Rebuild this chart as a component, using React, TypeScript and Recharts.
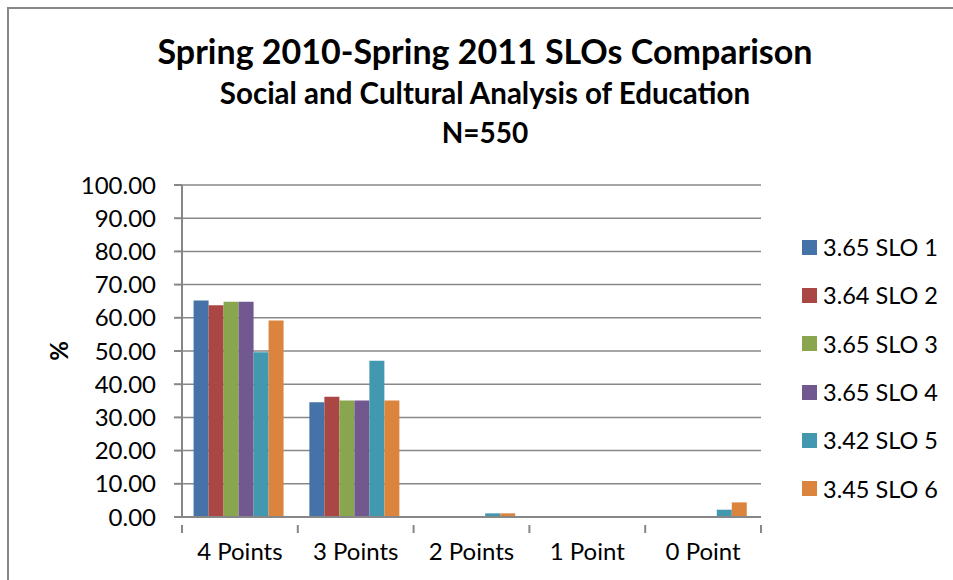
import React from 'react';
import { BarChart, Bar, XAxis, YAxis, CartesianGrid, Label } from 'recharts';

const categories = ['4 Points', '3 Points', '2 Points', '1 Point', '0 Point'];
const seriesNames = ['3.65 SLO 1', '3.64 SLO 2', '3.65 SLO 3', '3.65 SLO 4', '3.42 SLO 5', '3.45 SLO 6'];
const slo1 = [65.2, 34.6, 0, 0, 0];
const slo2 = [63.8, 36.2, 0, 0, 0];
const slo3 = [64.8, 35.1, 0, 0, 0];
const slo4 = [64.8, 35.1, 0, 0, 0];
const slo5 = [49.6, 47.1, 1.1, 0, 2.2];
const slo6 = [59.2, 35.1, 1.1, 0, 4.4];
const yTicks = [0, 10, 20, 30, 40, 50, 60, 70, 80, 90, 100];
const colors = ['#4572A7', '#AA4643', '#89A54E', '#71588F', '#4198AF', '#DB843D'];

const seriesValues = [slo1, slo2, slo3, slo4, slo5, slo6];
const keys = seriesNames.map((_, i) => 's' + i);
const data = categories.map((c, ci) => {
  const row: any = { name: c };
  seriesValues.forEach((vals, si) => {
    row[keys[si]] = vals[ci];
  });
  return row;
});

const FONT = 'Lato, sans-serif';
const GRID = '#878787';
const CHART_W = 953;
const CHART_H = 580;
const MARGIN = { top: 185, right: 192, bottom: 23, left: 42 };
const Y_W = 140;
const PLOT_W = CHART_W - MARGIN.left - Y_W - MARGIN.right;
const BAND = PLOT_W / categories.length;

const XTick = (props: any) => {
  const { x, y, payload, index } = props;
  const isLast = index === categories.length - 1;
  return (
    <g>
      <line x1={x - BAND / 2} x2={x - BAND / 2} y1={y} y2={y + 8} stroke={GRID} strokeWidth={2} />
      {isLast && <line x1={x + BAND / 2} x2={x + BAND / 2} y1={y} y2={y + 8} stroke={GRID} strokeWidth={2} />}
      <text x={x} y={y + 35} textAnchor="middle" fontFamily={FONT} fontSize={24} fill="#000">
        {payload.value}
      </text>
    </g>
  );
};

export default function App() {
  return (
    <div style={{ position: 'fixed', left: 0, top: 0, width: CHART_W, height: CHART_H, overflow: 'hidden', background: '#fff' }}>
      <div style={{ position: 'absolute', left: 7, top: 7, width: 2000, height: 2000, borderLeft: `2px solid ${GRID}`, borderTop: `2px solid ${GRID}` }} />
      <div style={{ position: 'absolute', left: 0, width: 970, top: 30, textAlign: 'center', fontFamily: FONT, fontWeight: 'bold', color: '#000' }}>
        <div style={{ fontSize: 34, lineHeight: '42px' }}>Spring 2010-Spring 2011 SLOs Comparison</div>
        <div style={{ fontSize: 29.5, lineHeight: '40px', marginTop: 1 }}>Social and Cultural Analysis of Education</div>
        <div style={{ fontSize: 28, lineHeight: '38px' }}>N=550</div>
      </div>
      <div style={{ position: 'absolute', left: 0, top: 0 }}>
        <BarChart width={CHART_W} height={CHART_H} data={data} margin={MARGIN} barCategoryGap="10%" barGap={0}>
          <CartesianGrid vertical={false} stroke={GRID} strokeWidth={1.5} />
          <XAxis
            dataKey="name"
            height={40}
            axisLine={{ stroke: GRID, strokeWidth: 2 }}
            tickLine={false}
            tick={<XTick />}
            interval={0}
          />
          <YAxis
            width={Y_W}
            domain={[0, 100]}
            ticks={yTicks}
            interval={0}
            tickFormatter={(v: number) => v.toFixed(2)}
            axisLine={{ stroke: GRID, strokeWidth: 2 }}
            tickLine={{ stroke: GRID, strokeWidth: 2 }}
            tickSize={8}
            tickMargin={18}
            tick={{ fontFamily: FONT, fontSize: 24, fill: '#000' }}
          >
            <Label
              content={(p: any) => {
                const vb = p.viewBox || {};
                const cx = vb.x + 16;
                const cy = vb.y + vb.height / 2;
                return (
                  <text x={cx} y={cy} transform={`rotate(-90 ${cx} ${cy})`} textAnchor="middle" dominantBaseline="central" fontFamily={FONT} fontWeight="bold" fontSize={24} fill="#000">
                    %
                  </text>
                );
              }}
            />
          </YAxis>
          {keys.map((k, i) => (
            <Bar key={k} dataKey={k} name={seriesNames[i]} fill={colors[i]} isAnimationActive={false} />
          ))}
        </BarChart>
      </div>
      <div style={{ position: 'absolute', left: 802, top: 223, fontFamily: FONT, fontSize: 23.5, color: '#000' }}>
        {seriesNames.map((n, i) => (
          <div key={n} style={{ display: 'flex', alignItems: 'center', height: 48.3 }}>
            <span style={{ display: 'inline-block', width: 15, height: 15, background: colors[i], marginRight: 6 }} />
            <span>{n}</span>
          </div>
        ))}
      </div>
    </div>
  );
}
